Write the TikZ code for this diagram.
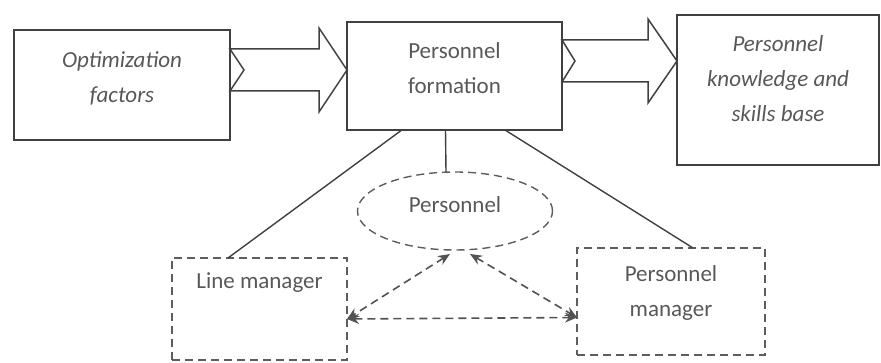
\documentclass[tikz,border=0pt]{standalone}
\usepackage{fontspec}
\setmainfont{Carlito}
\usetikzlibrary{shapes.geometric,calc,arrows.meta}
\definecolor{trait}{HTML}{404040}
\definecolor{texte}{HTML}{585858}

\begin{document}
\begin{tikzpicture}[x=1pt,y=1pt]
\tikzset{boite/.style={draw=trait, line width=1.5pt, rectangle, outer sep=0pt, align=center, text=texte, font=\fontsize{23}{35}\selectfont},
italique/.style={font=\fontsize{23}{35}\selectfont\itshape},
boitept/.style={boite, dash pattern=on 8pt off 5pt, line width=1.4pt, draw=trait!85},
fleche/.style={draw=trait, line width=1.5pt, line join=miter},
lien/.style={draw=trait, line width=1.4pt},
flechept/.style={draw=trait!90, line width=1.6pt, dash pattern=on 8pt off 5pt, {Stealth[length=12pt,width=10pt]}-{Stealth[length=12pt,width=10pt]}}}
\useasboundingbox (0,0) rectangle (881,363);
\node[boite, italique, minimum width=216pt, minimum height=110pt, text depth=16pt] (optim) at (122,278) {Optimization\\factors};
\node[boite, minimum width=215pt, minimum height=108pt, text depth=16pt] (forma) at (454.5,287) {Personnel\\formation};
\node[boite, italique, minimum width=202pt, minimum height=150pt, text depth=22pt] (base) at (778,273) {Personnel\\knowledge and\\skills base};
\node[boitept, ellipse, minimum width=195pt, minimum height=78pt, text depth=12pt] (pers) at (455,152) {Personnel};
\node[boitept, minimum width=175pt, minimum height=102pt, text depth=56pt] (lineman) at (259.5,54) {Line manager};
\node[boitept, minimum width=188pt, minimum height=107pt, text depth=21pt] (persman) at (671,61.5) {Personnel\\manager};
% fleches pleines
\draw[fleche] (optim.east |- 0,314) -- ($(forma.west |- 0,314)+(-28,0)$) -- ++(0,21) -- (forma.west |- 0,293) -- ($(forma.west |- 0,251)+(-28,0)$) -- ++(0,21) -- (optim.east |- 0,272) -- ($(optim.east |- 0,293)+(14,0)$) -- cycle;
\draw[fleche] (forma.east |- 0,323) -- ($(base.west |- 0,323)+(-29,0)$) -- ++(0,21) -- (base.west |- 0,302) -- ($(base.west |- 0,260)+(-29,0)$) -- ++(0,21) -- (forma.east |- 0,281) -- ($(forma.east |- 0,302)+(13,0)$) -- cycle;
% liens
\draw[lien] ($(forma.south west)!0.255!(forma.south east)$) -- ($(lineman.north west)!0.32!(lineman.north east)$);
\draw[lien] ($(forma.south)+(-9,0)$) -- ($(pers.north)+(-9,0)$);
\draw[lien] ($(forma.south west)!0.735!(forma.south east)$) -- ($(persman.north west)!0.617!(persman.north east)$);
% fleches pointillees
\coordinate (g) at ($(lineman.east)+(0,-10)$);
\coordinate (d) at ($(persman.west)+(0,-16)$);
\draw[flechept] ($(pers.south)+(-5,-4)$) -- (g);
\draw[flechept] ($(pers.south)+(15,-4)$) -- (d);
\draw[flechept] (g) -- (d);
\end{tikzpicture}
\end{document}
